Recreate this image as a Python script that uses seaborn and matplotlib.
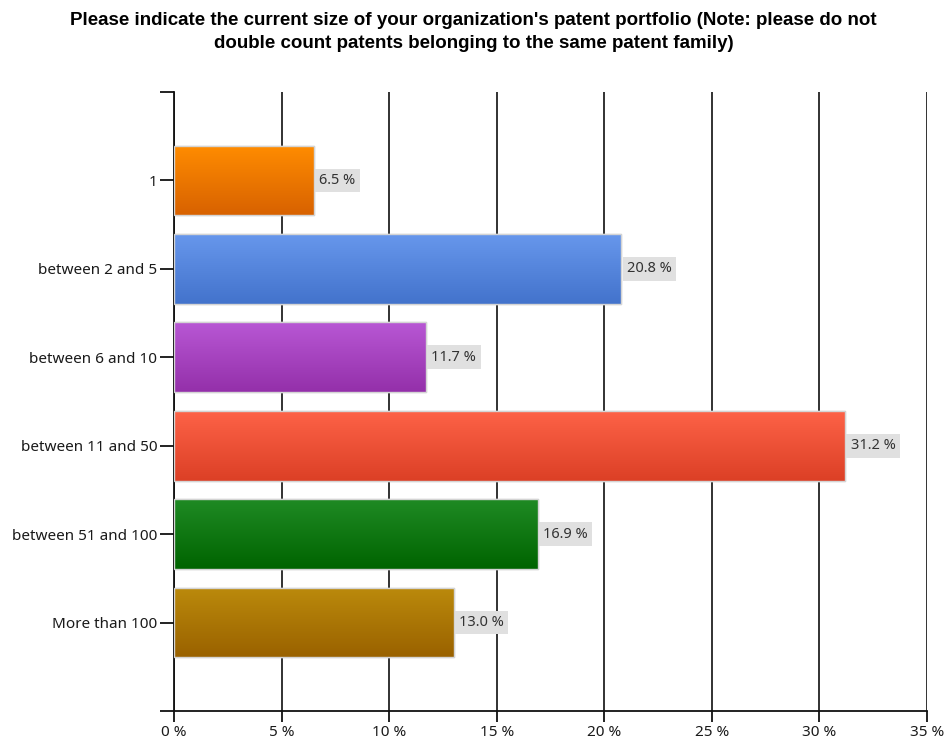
import numpy as np
import pandas as pd
import matplotlib.pyplot as plt
import matplotlib.colors as mcolors
import seaborn as sns

categories = ['1', 'between 2 and 5', 'between 6 and 10', 'between 11 and 50',
              'between 51 and 100', 'More than 100']
shares = [6.5, 20.8, 11.7, 31.2, 16.9, 13.0]
top_colors = ['#ff8c00', '#6797ec', '#b857d4', '#fd6247', '#1f8a24', '#bb8a0c']
bottom_colors = ['#d86200', '#4373cc', '#9430aa', '#dc4026', '#006400', '#9a6200']
x_ticks = [0, 5, 10, 15, 20, 25, 30, 35]

sns.set_style('white')
plt.rcParams['font.family'] = ['Noto Sans', 'DejaVu Sans']

df = pd.DataFrame({'size': categories, 'share': shares})

fig = plt.figure(figsize=(9.47, 7.39), dpi=100)
ax = fig.add_axes([0.1837, 0.0379, 0.7952, 0.8376])

sns.barplot(data=df, x='share', y='size', hue='size', palette=top_colors,
            orient='h', width=0.79, legend=False, ax=ax, zorder=2,
            edgecolor='#d4d4d4', linewidth=1)

# vertical gradient fill on each bar
for patch, c_top, c_bot in zip(ax.patches, top_colors, bottom_colors):
    x0, y0 = patch.get_x(), patch.get_y()
    w, h = patch.get_width(), patch.get_height()
    cmap = mcolors.LinearSegmentedColormap.from_list('g', [c_top, c_bot])
    grad = np.linspace(0, 1, 64).reshape(-1, 1)
    im = ax.imshow(grad, cmap=cmap, aspect='auto', origin='upper',
                   extent=[x0, x0 + w, y0 + h, y0], zorder=2.5,
                   interpolation='bilinear')
    im.set_clip_path(patch)
    ax.add_patch(plt.Rectangle((x0, y0), w, h, fill=False,
                               edgecolor='#d4d4d4', linewidth=1, zorder=3))

for i, v in enumerate(shares):
    ax.annotate(f'{v:.1f} %', xy=(v, i), xytext=(4, 0), textcoords='offset points',
                va='center', ha='left', fontsize=10.5, color='#333333', zorder=4,
                bbox=dict(boxstyle='square,pad=0.3', facecolor='#e0e0e0',
                          edgecolor='none'))

ax.set_xlim(0, 35)
ax.set_ylim(6, -1)
ax.set_xticks(x_ticks)
ax.set_xticklabels([f'{t} %' for t in x_ticks])
ax.set_xlabel('')
ax.set_ylabel('')
ax.set_yticks([-1, 6], minor=True)

ax.grid(axis='x', color='#222222', linewidth=1.3, zorder=0)
ax.set_axisbelow(True)
for s in ['top', 'right']:
    ax.spines[s].set_visible(False)
for s in ['left', 'bottom']:
    ax.spines[s].set_color('#111111')
    ax.spines[s].set_linewidth(1.3)

ax.tick_params(axis='both', which='both', direction='out', length=8, width=1.3,
               color='#111111', labelsize=11, labelcolor='#1a1a1a', pad=2,
               bottom=True, left=True)
ax.tick_params(axis='y', which='both', length=10)

fig.suptitle("Please indicate the current size of your organization's patent portfolio "
             "(Note: please do not\ndouble count patents belonging to the same patent family)",
             y=0.984, fontsize=13.5, fontweight='bold', family='Liberation Sans',
             linespacing=1.45, color='black')

fig.savefig('out.png', dpi=100)
